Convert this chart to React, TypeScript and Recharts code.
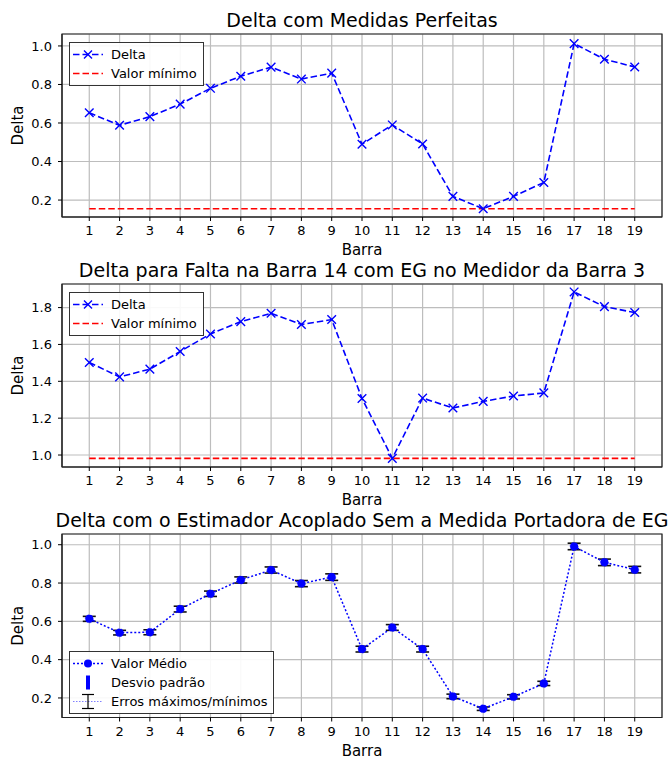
import React from "react";
import {
  ComposedChart,
  Line,
  XAxis,
  YAxis,
  CartesianGrid,
  ReferenceArea,
  ErrorBar,
  Legend,
} from "recharts";

// barras do sistema (eixo x)
const barras = [1, 2, 3, 4, 5, 6, 7, 8, 9, 10, 11, 12, 13, 14, 15, 16, 17, 18, 19];

// painel 1: medidas perfeitas
const deltaPerfeitas = [
  0.653, 0.588, 0.633, 0.698, 0.78, 0.843, 0.89, 0.828, 0.859, 0.49, 0.59, 0.491, 0.219, 0.155,
  0.219, 0.291, 1.012, 0.931, 0.891,
];
const minPerfeitas = 0.155;
const ticksPerfeitas = [0.2, 0.4, 0.6, 0.8, 1.0];

// painel 2: falta na barra 14, EG no medidor da barra 3
const deltaFalta = [
  1.502, 1.424, 1.466, 1.562, 1.657, 1.724, 1.769, 1.708, 1.735, 1.307, 0.982, 1.309, 1.255, 1.291,
  1.32, 1.337, 1.885, 1.805, 1.773,
];
const minFalta = 0.982;
const ticksFalta = [1.0, 1.2, 1.4, 1.6, 1.8];

// painel 3: estimador acoplado
const deltaMedio = [
  0.613, 0.541, 0.543, 0.664, 0.744, 0.816, 0.868, 0.797, 0.831, 0.455, 0.568, 0.455, 0.208, 0.144,
  0.206, 0.276, 0.991, 0.908, 0.87,
];
const erroMaxMin = [
  0.013, 0.012, 0.013, 0.015, 0.014, 0.016, 0.016, 0.016, 0.017, 0.015, 0.015, 0.015, 0.012, 0.009,
  0.011, 0.011, 0.017, 0.017, 0.017,
];
const desvioPadrao = [
  0.007, 0.006, 0.006, 0.008, 0.007, 0.008, 0.008, 0.008, 0.009, 0.008, 0.008, 0.008, 0.006, 0.005,
  0.005, 0.006, 0.009, 0.009, 0.009,
];
const ticksMedio = [0.2, 0.4, 0.6, 0.8, 1.0];

const dadosPerfeitas = barras.map((b, i) => ({ barra: b, delta: deltaPerfeitas[i], minimo: minPerfeitas }));
const dadosFalta = barras.map((b, i) => ({ barra: b, delta: deltaFalta[i], minimo: minFalta }));
const dadosMedio = barras.map((b, i) => ({
  barra: b,
  medio: deltaMedio[i],
  erro: erroMaxMin[i],
  desvio: desvioPadrao[i],
}));

const FONT = "'DejaVu Sans', sans-serif";
const BLUE = "#0000ff";
const RED = "#ff0000";
const DASH = "6.5 3";
const X_DOMAIN: [number, number] = [0.1, 19.9];
const W = 672;
const H = 260;
const MARGIN = { top: 34, right: 10, left: 22, bottom: 3 };

const tickStyle = { fontSize: 13, fill: "#000", fontFamily: FONT };

const yLabel = (props: any) => {
  const vb = props.viewBox || {};
  const cy = (vb.y ?? 34) + (vb.height ?? 183) / 2;
  return (
    <text
      x={18}
      y={cy}
      transform={`rotate(-90 18 ${cy})`}
      textAnchor="middle"
      dominantBaseline="central"
      fontSize={15}
      fontFamily={FONT}
      fill="#000"
    >
      Delta
    </text>
  );
};

const xLabel = (props: any) => {
  const vb = props.viewBox || {};
  const cx = (vb.x ?? 62) + (vb.width ?? 600) / 2;
  const y = (vb.y ?? 217) + 33;
  return (
    <text x={cx} y={y} textAnchor="middle" dominantBaseline="central" fontSize={15} fontFamily={FONT} fill="#000">
      Barra
    </text>
  );
};

const xMarker = (p: any) => {
  const { cx, cy, index } = p;
  if (cx == null || cy == null) return <g key={index} />;
  const s = 4.3;
  return (
    <path
      key={index}
      d={`M${cx - s},${cy - s}L${cx + s},${cy + s}M${cx - s},${cy + s}L${cx + s},${cy - s}`}
      stroke={BLUE}
      strokeWidth={1.4}
      fill="none"
    />
  );
};

const legendBox: React.CSSProperties = {
  border: "1px solid #333",
  background: "rgba(255,255,255,0.9)",
  fontFamily: FONT,
  fontSize: 13,
  color: "#000",
  padding: "2px 6px 2px 2px",
  whiteSpace: "nowrap",
};

const Row = ({ icon, label }: { icon: React.ReactNode; label: string }) => (
  <div style={{ display: "flex", alignItems: "center", height: 19 }}>
    <svg width={32} height={19} style={{ marginRight: 7 }}>
      {icon}
    </svg>
    <span>{label}</span>
  </div>
);

const legendDelta = () => (
  <div style={legendBox}>
    <Row
      label="Delta"
      icon={
        <g>
          <line x1={1} y1={9.5} x2={31} y2={9.5} stroke={BLUE} strokeWidth={1.6} strokeDasharray={DASH} />
          <path d="M12,5.5L20,13.5M12,13.5L20,5.5" stroke={BLUE} strokeWidth={1.4} />
        </g>
      }
    />
    <Row
      label="Valor mínimo"
      icon={<line x1={1} y1={9.5} x2={31} y2={9.5} stroke={RED} strokeWidth={1.6} strokeDasharray={DASH} />}
    />
  </div>
);

const legendMedio = () => (
  <div style={legendBox}>
    <Row
      label="Valor Médio"
      icon={
        <g>
          <line x1={1} y1={9.5} x2={31} y2={9.5} stroke={BLUE} strokeWidth={1.6} strokeDasharray="2 2" />
          <circle cx={16} cy={9.5} r={4} fill={BLUE} />
        </g>
      }
    />
    <Row label="Desvio padrão" icon={<rect x={14} y={2.5} width={4} height={14} fill={BLUE} />} />
    <Row
      label="Erros máximos/mínimos"
      icon={
        <g>
          <line x1={1} y1={9.5} x2={31} y2={9.5} stroke="#8080ff" strokeWidth={1} strokeDasharray="1.5 1.5" />
          <line x1={16} y1={2.5} x2={16} y2={16.5} stroke="#000" strokeWidth={1.2} />
          <line x1={10} y1={2.5} x2={22} y2={2.5} stroke="#000" strokeWidth={1.2} />
          <line x1={10} y1={16.5} x2={22} y2={16.5} stroke="#000" strokeWidth={1.2} />
        </g>
      }
    />
  </div>
);

const Title = ({ text }: { text: string }) => (
  <div
    style={{
      position: "absolute",
      left: 362,
      top: 9,
      transform: "translateX(-50%)",
      whiteSpace: "nowrap",
      fontFamily: FONT,
      fontSize: 19,
      lineHeight: "22px",
      color: "#000",
    }}
  >
    {text}
  </div>
);

function Painel({ top, title, children }: { top: number; title: string; children: React.ReactNode }) {
  return (
    <div style={{ position: "absolute", left: 0, top, width: W, height: H }}>
      {children}
      <Title text={title} />
    </div>
  );
}

// grade, eixos e moldura comuns aos tres paineis
function gridAxes(yDomain: [number, number], yTicks: number[]) {
  return [
    <CartesianGrid key="grid" stroke="#bdbdbd" strokeWidth={1.2} />,
    <XAxis
      key="x"
      dataKey="barra"
      type="number"
      domain={X_DOMAIN}
      allowDataOverflow
      ticks={barras}
      interval={0}
      height={40}
      tick={tickStyle}
      tickSize={4}
      tickMargin={5}
      tickLine={{ stroke: "#000" }}
      axisLine={{ stroke: "#222" }}
      label={xLabel}
    />,
    <YAxis
      key="y"
      type="number"
      domain={yDomain}
      allowDataOverflow
      ticks={yTicks}
      width={40}
      tick={tickStyle}
      tickSize={4}
      tickMargin={6}
      tickLine={{ stroke: "#000" }}
      axisLine={{ stroke: "#222" }}
      tickFormatter={(v: number) => v.toFixed(1)}
      label={yLabel}
    />,
    <ReferenceArea
      key="frame"
      x1={X_DOMAIN[0]}
      x2={X_DOMAIN[1]}
      y1={yDomain[0]}
      y2={yDomain[1]}
      fill="none"
      fillOpacity={0}
      stroke="#222"
      strokeWidth={1.2}
      ifOverflow="visible"
    />,
  ];
}

export default function App() {
  const dom1: [number, number] = [0.112, 1.062];
  const dom2: [number, number] = [0.935, 1.928];
  const dom3: [number, number] = [0.098, 1.056];
  return (
    <div style={{ position: "absolute", left: 0, top: 0, width: W, height: 760, background: "#fff" }}>
      <Painel top={0} title="Delta com Medidas Perfeitas">
        <ComposedChart width={W} height={H} data={dadosPerfeitas} margin={MARGIN}>
          {gridAxes(dom1, ticksPerfeitas)}
          <Line
            dataKey="minimo"
            stroke={RED}
            strokeWidth={1.6}
            strokeDasharray={DASH}
            dot={false}
            isAnimationActive={false}
          />
          <Line
            dataKey="delta"
            stroke={BLUE}
            strokeWidth={1.6}
            strokeDasharray={DASH}
            dot={xMarker}
            activeDot={false}
            isAnimationActive={false}
          />
          <Legend
            layout="vertical"
            align="center"
            verticalAlign="middle"
            content={legendDelta}
            wrapperStyle={{ left: 69, top: 42, width: "auto", height: "auto" }}
          />
        </ComposedChart>
      </Painel>

      <Painel top={250} title="Delta para Falta na Barra 14 com EG no Medidor da Barra 3">
        <ComposedChart width={W} height={H} data={dadosFalta} margin={MARGIN}>
          {gridAxes(dom2, ticksFalta)}
          <Line
            dataKey="minimo"
            stroke={RED}
            strokeWidth={1.6}
            strokeDasharray={DASH}
            dot={false}
            isAnimationActive={false}
          />
          <Line
            dataKey="delta"
            stroke={BLUE}
            strokeWidth={1.6}
            strokeDasharray={DASH}
            dot={xMarker}
            activeDot={false}
            isAnimationActive={false}
          />
          <Legend
            layout="vertical"
            align="center"
            verticalAlign="middle"
            content={legendDelta}
            wrapperStyle={{ left: 69, top: 42, width: "auto", height: "auto" }}
          />
        </ComposedChart>
      </Painel>

      <Painel top={500} title="Delta com o Estimador Acoplado Sem a Medida Portadora de EG">
        <ComposedChart width={W} height={H} data={dadosMedio} margin={{ ...MARGIN, bottom: 2.5 }}>
          {gridAxes(dom3, ticksMedio)}
          <Line
            dataKey="medio"
            stroke={BLUE}
            strokeWidth={1.5}
            strokeDasharray="2 2"
            dot={{ r: 4, fill: BLUE, stroke: BLUE, strokeWidth: 0.5 }}
            activeDot={false}
            isAnimationActive={false}
          >
            <ErrorBar dataKey="erro" width={6.5} stroke="#111" strokeWidth={1.6} isAnimationActive={false} />
            <ErrorBar dataKey="desvio" width={0} stroke={BLUE} strokeWidth={4} isAnimationActive={false} />
          </Line>
          <Legend
            layout="vertical"
            align="center"
            verticalAlign="middle"
            content={legendMedio}
            wrapperStyle={{ left: 69, top: 151, width: "auto", height: "auto" }}
          />
        </ComposedChart>
      </Painel>
    </div>
  );
}
